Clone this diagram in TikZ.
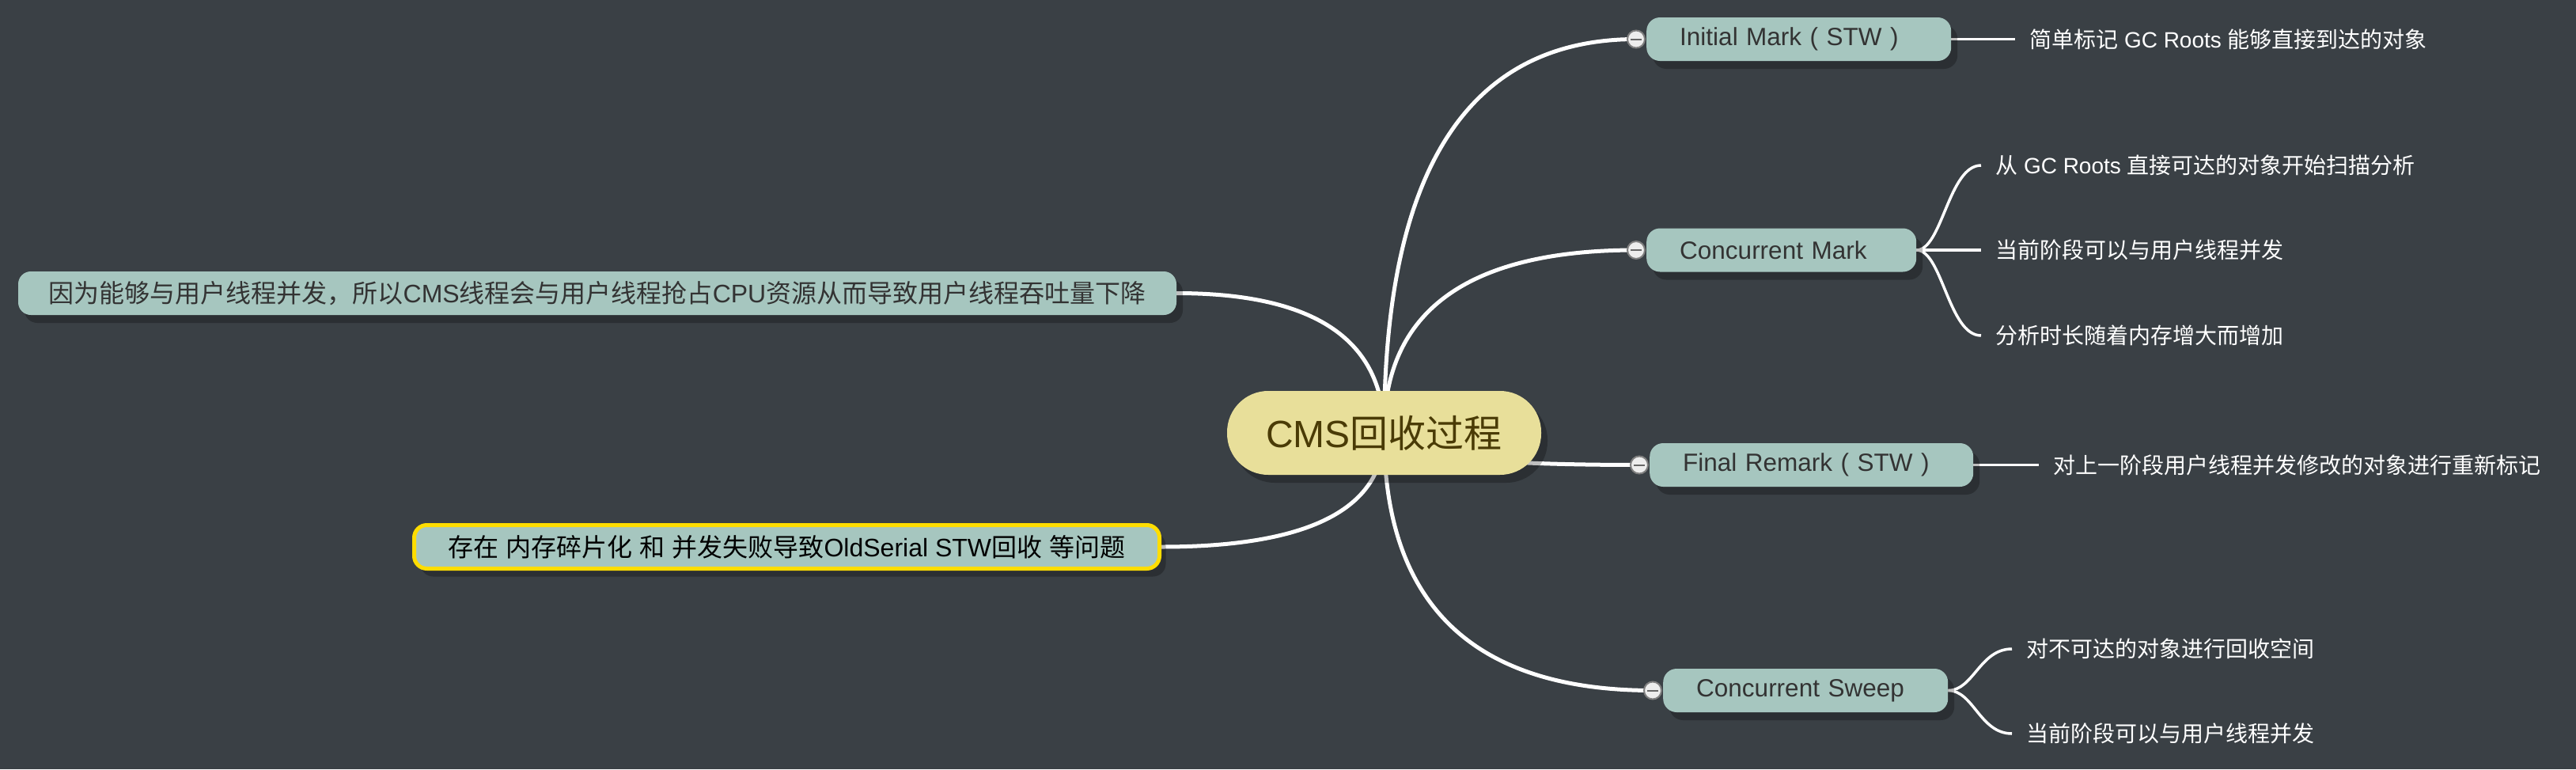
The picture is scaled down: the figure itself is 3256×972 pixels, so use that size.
\documentclass[tikz,border=0pt]{standalone}
\usepackage{fontspec}
\setmainfont{Liberation Sans}
\newfontfamily\cjk{Noto Sans CJK SC}
\usetikzlibrary{shadows}
\pgfdeclarelayer{back}
\pgfdeclarelayer{lines}
\pgfsetlayers{back,lines,main}
\definecolor{bgcol}{HTML}{3A4045}
\definecolor{teal}{HTML}{A6C6BF}
\definecolor{cfill}{HTML}{E8DF9A}
\definecolor{ctext}{HTML}{4A3B06}
\definecolor{subtext}{HTML}{333333}
\definecolor{ybord}{HTML}{FFDD00}
\definecolor{mring}{HTML}{808080}
\tikzset{
  shad/.style={general shadow={fill=black, opacity=0.25, shadow xshift=8pt, shadow yshift=-10pt}},
  centernode/.style={shad, rectangle, rounded corners=52pt, fill=cfill, text=ctext,
    minimum width=397pt, minimum height=106pt, inner sep=0pt,
    font=\fontsize{48}{56}\selectfont},
  subnode/.style={shad, rectangle, rounded corners=17pt, fill=teal, text=subtext,
    minimum height=55pt, inner xsep=42pt, inner ysep=0pt, align=left, anchor=west,
    font=\fontsize{31.5}{36}\selectfont},
  leftnode/.style={shad, rectangle, rounded corners=16pt, fill=teal, text=subtext,
    minimum height=55pt, inner sep=0pt,
    font=\fontsize{32}{38}\selectfont},
  marker/.style={circle, minimum size=22pt, inner sep=0pt, fill=white!93!black, draw=mring, line width=2pt,
    path picture={\draw[mring!80!black, line width=2pt] ([xshift=-7pt]path picture bounding box.center) -- ([xshift=7pt]path picture bounding box.center);}},
  leaf/.style={anchor=west, text=white, inner xsep=18pt, inner ysep=0pt,
    font=\fontsize{28}{34}\selectfont},
  mainline/.style={draw=white, line width=5pt},
  subline/.style={draw=white, line width=3.5pt},
}
\begin{document}
\begin{tikzpicture}[x=1pt, y=-1pt]
\useasboundingbox (0,0) rectangle (3256,972);
\begin{pgfonlayer}{back}
\fill[bgcol] (0,0) rectangle (3256,972);
\end{pgfonlayer}

% central
\node[centernode] (root) at (1749.5,547) {CMS{\cjk 回收过程}};

% sub nodes
\node[subnode, text width=301pt] (im) at (2081,49.5) {Initial Mark ( STW )};
\node[subnode, text width=257pt] (cm) at (2081,316) {Concurrent Mark};
\node[subnode, text width=325pt] (fr) at (2085,587.5) {Final Remark ( STW )};
\node[subnode, text width=276pt] (cs) at (2102,872.5) {Concurrent Sweep};

% markers
\node[marker] (m1) at (2068,49.5) {};
\node[marker] (m2) at (2068,316) {};
\node[marker] (m3) at (2072,587.5) {};
\node[marker] (m4) at (2089,872.5) {};

% left nodes
\node[leftnode, minimum width=1464pt] (l1) at (755,370.5)
  {{\cjk 因为能够与用户线程并发，所以}CMS{\cjk 线程会与用户线程抢占}CPU{\cjk 资源从而导致用户线程吞吐量下降}};
\node[leftnode, minimum width=942pt, draw=ybord, line width=5pt, text=black] (l2) at (994.5,691)
  {{\cjk 存在} {\cjk 内存碎片化} {\cjk 和} {\cjk 并发失败导致}OldSerial STW{\cjk 回收} {\cjk 等问题}};

% leaves
\node[leaf] (t1) at (2547,49.5) {{\cjk 简单标记} GC Roots {\cjk 能够直接到达的对象}};
\node[leaf] (t21) at (2504,209) {{\cjk 从} GC Roots {\cjk 直接可达的对象开始扫描分析}};
\node[leaf] (t22) at (2504,316) {{\cjk 当前阶段可以与用户线程并发}};
\node[leaf] (t23) at (2504,424) {{\cjk 分析时长随着内存增大而增加}};
\node[leaf] (t3) at (2577,587.5) {{\cjk 对上一阶段用户线程并发修改的对象进行重新标记}};
\node[leaf] (t41) at (2543,820) {{\cjk 对不可达的对象进行回收空间}};
\node[leaf] (t42) at (2543,927) {{\cjk 当前阶段可以与用户线程并发}};

\begin{pgfonlayer}{lines}
% main connectors
\draw[mainline] (root.center) .. controls (1749,215.3) and (1855.3,49.5) .. (m1.center);
\draw[mainline] (root.center) .. controls (1749,393) and (1855.3,316) .. (m2.center);
\draw[mainline] (root.center) .. controls (1749,574) and (1856.7,587.5) .. (m3.center);
\draw[mainline] (root.center) .. controls (1749,764) and (1862.3,872.5) .. (m4.center);
\draw[mainline] (root.center) .. controls (1749,429.3) and (1661.7,370.5) .. (l1.east);
\draw[mainline] (root.center) .. controls (1749,643) and (1655.3,691) .. (l2.east);
% sub connectors
\draw[subline] (im.east) -- (t1.west);
\draw[subline] (cm.east) .. controls (2454.8,316) and (2463,209) .. (t21.west);
\draw[subline] (cm.east) -- (t22.west);
\draw[subline] (cm.east) .. controls (2454.8,316) and (2463,424) .. (t23.west);
\draw[subline] (fr.east) -- (t3.west);
\draw[subline] (cs.east) .. controls (2494.4,872.5) and (2502.5,820) .. (t41.west);
\draw[subline] (cs.east) .. controls (2494.4,872.5) and (2502.5,927) .. (t42.west);
\end{pgfonlayer}
\end{tikzpicture}
\end{document}
